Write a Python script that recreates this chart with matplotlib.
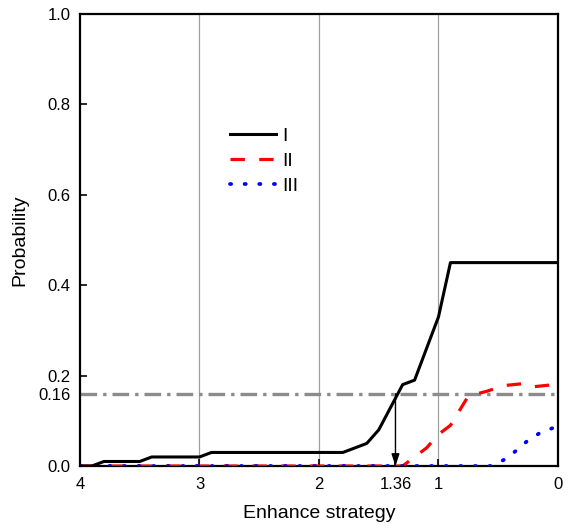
import matplotlib
matplotlib.use("Agg")
import matplotlib.pyplot as plt

plt.rcParams['font.family'] = ['Liberation Sans', 'DejaVu Sans']

# strategy level (x axis runs from 4 down to 0)
x_I = [4.0, 3.9, 3.8, 3.5, 3.4, 3.0, 2.9, 1.8, 1.6, 1.5, 1.3, 1.2, 1.0, 0.9, 0.0]
p_I = [0.0, 0.0, 0.01, 0.01, 0.02, 0.02, 0.03, 0.03, 0.05, 0.08, 0.18, 0.19, 0.33, 0.45, 0.45]

x_II = [4.0, 1.3, 1.1, 1.0, 0.9, 0.75, 0.6, 0.45, 0.3, 0.22, 0.0]
p_II = [0.0, 0.0, 0.04, 0.07, 0.09, 0.155, 0.165, 0.178, 0.182, 0.175, 0.181]

x_III = [4.0, 0.55, 0.43, 0.35, 0.25, 0.14, 0.0]
p_III = [0.0, 0.0, 0.017, 0.034, 0.057, 0.075, 0.088]

threshold = 0.16
cross_x = 1.36

x_ticks = [4, 3, 2, 1.36, 1, 0]
x_ticklabels = ['4', '3', '2', '1.36', '1', '0']
y_ticks = [0.0, 0.16, 0.2, 0.4, 0.6, 0.8, 1.0]
y_ticklabels = ['0.0', '0.16', '0.2', '0.4', '0.6', '0.8', '1.0']
grid_x = [3, 2, 1]

fig = plt.figure(figsize=(5.68, 5.28), dpi=100)
ax = fig.add_axes([0.1408, 0.1174, 0.8416, 0.8561])

for gx in grid_x:
    ax.axvline(gx, color='#a0a0a0', lw=0.9, zorder=1)

ax.axhline(threshold, color='#8c8c8c', lw=2.4, dashes=(5, 1.8, 1, 1.8), zorder=2)

ax.plot(x_I, p_I, color='black', lw=2.2, label='I', zorder=4)
ax.plot(x_II, p_II, color='red', lw=2.3, dashes=(4.5, 4.5), label='II', zorder=3)
ax.plot(x_III, p_III, color='blue', lw=2.7, linestyle=(0, (0.3, 3.6)),
        dash_capstyle='round', label='III', zorder=3)

ax.annotate('', xy=(cross_x, 0.0), xytext=(cross_x, threshold),
            arrowprops=dict(arrowstyle='-|>,head_length=0.6,head_width=0.2',
                            color='black', lw=1, mutation_scale=12,
                            shrinkA=0, shrinkB=0), zorder=5)

ax.set_xlim(4, 0)
ax.set_ylim(0, 1.0)
ax.set_xticks(x_ticks)
ax.set_xticklabels(x_ticklabels)
ax.set_yticks(y_ticks)
ax.set_yticklabels(y_ticklabels)
ax.tick_params(direction='in', length=5, width=1.2, labelsize=12)
ax.tick_params(axis='x', pad=8)
ax.tick_params(axis='y', pad=7)

for s in ax.spines.values():
    s.set_linewidth(1.6)

ax.set_xlabel('Enhance strategy', fontsize=14, labelpad=9)
ax.set_ylabel('Probability', fontsize=14, labelpad=7)

ax.legend(loc='upper left', bbox_to_anchor=(0.293, 0.770), frameon=False,
          fontsize=14, handlelength=2.4, handletextpad=0.3,
          labelspacing=0.36, borderpad=0)

fig.savefig('out.png', dpi=100)
